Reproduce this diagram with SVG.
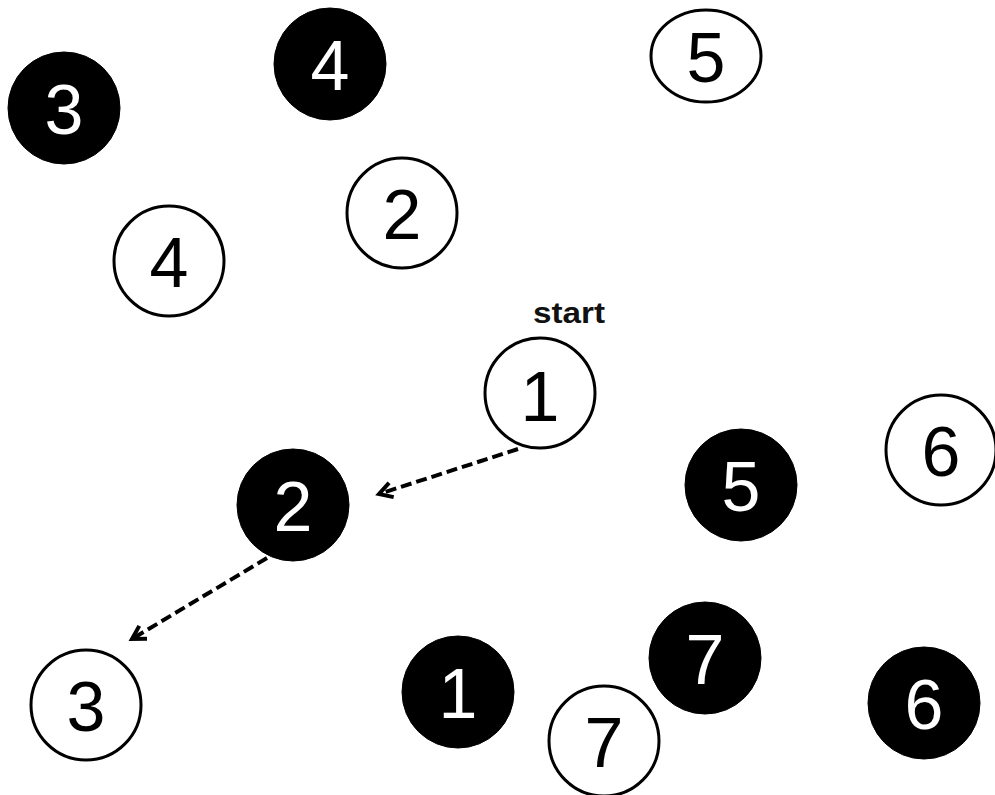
<svg xmlns="http://www.w3.org/2000/svg" width="995" height="795" viewBox="0 0 995 795">
<style>
.w{fill:#fff;stroke:#000;stroke-width:3}
.b{fill:#000;stroke:#000;stroke-width:1}
.tw{font-family:"Liberation Sans",Arial,sans-serif;font-size:70px;fill:#000;text-anchor:middle}
.tb{font-family:"Liberation Sans",Arial,sans-serif;font-size:70px;fill:#fff;text-anchor:middle}
.lbl{font-family:"Liberation Sans",Arial,sans-serif;font-size:29px;font-weight:bold;fill:#111;text-anchor:middle}
.edge{fill:none;stroke:#000;stroke-width:4;stroke-dasharray:11 5}
</style>
<defs>
<marker id="arr" markerUnits="userSpaceOnUse" markerWidth="24" markerHeight="24" viewBox="-18 -12 24 24" refX="0" refY="0" orient="auto">
<path d="M-13,-7.5 L0,0 L-13,7.5" fill="none" stroke="#000" stroke-width="4"/>
</marker>
</defs>
<rect width="995" height="795" fill="#fff"/>
<g id="connectors">
<line class="edge" x1="518" y1="449" x2="379" y2="494" marker-end="url(#arr)"/>
<line class="edge" x1="267" y1="558" x2="132" y2="639" marker-end="url(#arr)"/>
</g>
<g id="b3"><circle class="b" cx="64" cy="108" r="56"/><text class="tb" x="64" y="134">3</text></g>
<g id="b4"><circle class="b" cx="330" cy="64" r="56"/><text class="tb" x="330" y="90">4</text></g>
<g id="w5"><ellipse class="w" cx="706" cy="56" rx="55" ry="46"/><text class="tw" x="706" y="82">5</text></g>
<g id="w2"><circle class="w" cx="402" cy="213" r="55"/><text class="tw" x="402" y="239">2</text></g>
<g id="w4"><circle class="w" cx="169" cy="261" r="55"/><text class="tw" x="169" y="287">4</text></g>
<g id="start-label"><text class="lbl" x="569" y="323" textLength="72" lengthAdjust="spacingAndGlyphs">start</text></g>
<g id="w1"><circle class="w" cx="540" cy="393" r="55"/><text class="tw" x="540" y="421">1</text></g>
<g id="w6"><circle class="w" cx="941" cy="450" r="55"/><text class="tw" x="941" y="476">6</text></g>
<g id="b5"><circle class="b" cx="741" cy="485" r="56"/><text class="tb" x="741" y="511">5</text></g>
<g id="b2"><circle class="b" cx="293" cy="505" r="56"/><text class="tb" x="293" y="531">2</text></g>
<g id="w3"><circle class="w" cx="86" cy="705" r="55"/><text class="tw" x="86" y="731">3</text></g>
<g id="b1"><circle class="b" cx="458" cy="692" r="56"/><text class="tb" x="458" y="718">1</text></g>
<g id="b7"><circle class="b" cx="705" cy="658" r="56"/><text class="tb" x="705" y="684">7</text></g>
<g id="w7"><circle class="w" cx="604" cy="741" r="55"/><text class="tw" x="604" y="767">7</text></g>
<g id="b6"><circle class="b" cx="924" cy="703" r="56"/><text class="tb" x="924" y="729">6</text></g>
</svg>
